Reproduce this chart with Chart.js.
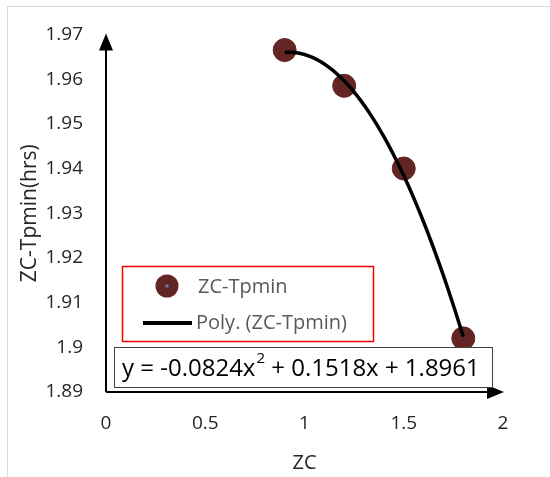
<!DOCTYPE html>
<html>
<head>
<meta charset="utf-8">
<script src="https://cdn.jsdelivr.net/npm/chart.js"></script>
<style>
  body { margin: 0; background: #fff; }
  canvas { display: block; }
</style>
</head>
<body>
<canvas id="chart" width="550" height="477"></canvas>
<script>
const zcValues = [0.9, 1.2, 1.5, 1.8];
const tpminValues = [1.9665, 1.9585, 1.940, 1.902];
const polyCoeffs = [-0.0824, 0.1518, 1.8961]; // x^2, x, const (from the chart's equation)
const xTicks = [0, 0.5, 1, 1.5, 2];
const yTicks = [1.89, 1.9, 1.91, 1.92, 1.93, 1.94, 1.95, 1.96, 1.97];

const FONT = "'Open Sans', sans-serif";
const markerColor = "#632523";

// trendline points, from the fitted polynomial over the data range
function trendPoints() {
  const pts = [];
  const x0 = zcValues[0], x1 = zcValues[zcValues.length - 1];
  for (let i = 0; i <= 45; i++) {
    const x = x0 + (x1 - x0) * i / 45;
    pts.push({ x: x, y: polyCoeffs[0] * x * x + polyCoeffs[1] * x + polyCoeffs[2] });
  }
  return pts;
}

const extras = {
  id: "extras",
  afterDraw(chart) {
    const c = chart.ctx;
    const a = chart.chartArea;
    c.save();

    // outer frame
    c.strokeStyle = "#d9d9d9";
    c.lineWidth = 1;
    c.beginPath();
    c.moveTo(7.5, 477);
    c.lineTo(7.5, 6.5);
    c.lineTo(550, 6.5);
    c.stroke();

    // axes with arrows
    c.strokeStyle = "#000";
    c.fillStyle = "#000";
    c.lineWidth = 2;
    c.beginPath();
    c.moveTo(a.left, a.bottom);
    c.lineTo(a.left, a.top + 12);
    c.moveTo(a.left, a.bottom);
    c.lineTo(a.right - 12, a.bottom);
    c.stroke();
    c.beginPath();
    c.moveTo(a.left, a.top - 1);
    c.lineTo(a.left - 7, a.top + 16);
    c.lineTo(a.left + 7, a.top + 16);
    c.closePath();
    c.fill();
    c.beginPath();
    c.moveTo(a.right + 1, a.bottom);
    c.lineTo(a.right - 16, a.bottom - 7);
    c.lineTo(a.right - 16, a.bottom + 7);
    c.closePath();
    c.fill();

    // legend
    c.fillStyle = "#fff";
    c.fillRect(122, 266, 252, 76);
    c.strokeStyle = "#ff0000";
    c.lineWidth = 1.5;
    c.strokeRect(122.5, 266.5, 251, 75);
    c.fillStyle = markerColor;
    c.beginPath();
    c.arc(167, 286, 11.5, 0, Math.PI * 2);
    c.fill();
    c.fillStyle = "#4f81bd";
    c.beginPath();
    c.arc(167, 286, 1.8, 0, Math.PI * 2);
    c.fill();
    c.strokeStyle = "#000";
    c.lineWidth = 4;
    c.beginPath();
    c.moveTo(143, 323);
    c.lineTo(192, 323);
    c.stroke();
    c.fillStyle = "#595959";
    c.font = "20px " + FONT;
    c.textAlign = "left";
    c.textBaseline = "middle";
    c.fillText("ZC-Tpmin", 198, 287);
    c.fillText("Poly. (ZC-Tpmin)", 196, 323);

    // equation box
    c.fillStyle = "#fff";
    c.fillRect(114, 347, 379, 41);
    c.strokeStyle = "#404040";
    c.lineWidth = 1;
    c.strokeRect(114.5, 347.5, 378, 40);
    c.fillStyle = "#000";
    const p1 = "y = -0.0824x";
    const p2 = " + 0.1518x + 1.8961";
    c.font = "24px " + FONT;
    let x = 122;
    c.fillText(p1, x, 369);
    x += c.measureText(p1).width;
    c.font = "15px " + FONT;
    c.fillText("2", x + 1, 359);
    x += c.measureText("2").width + 1;
    c.font = "24px " + FONT;
    c.fillText(p2, x, 369);

    c.restore();
  }
};

new Chart(document.getElementById("chart"), {
  type: "scatter",
  data: {
    datasets: [
      {
        label: "Poly. (ZC-Tpmin)",
        data: trendPoints(),
        showLine: true,
        borderColor: "#000",
        borderWidth: 3.5,
        pointRadius: 0,
        tension: 0,
        order: 0
      },
      {
        label: "ZC-Tpmin",
        data: zcValues.map((v, i) => ({ x: v, y: tpminValues[i] })),
        backgroundColor: markerColor,
        borderColor: markerColor,
        pointRadius: 11.5,
        order: 1
      }
    ]
  },
  options: {
    responsive: false,
    animation: false,
    layout: { padding: { left: 0, right: 47, top: 30, bottom: 0 } },
    plugins: {
      legend: { display: false },
      tooltip: { enabled: false }
    },
    scales: {
      x: {
        type: "linear",
        min: 0,
        max: 2,
        afterBuildTicks: s => { s.ticks = xTicks.map(v => ({ value: v })); },
        afterFit: s => { s.height = 85; },
        grid: { display: false, drawTicks: false },
        border: { display: false },
        ticks: {
          color: "#262626",
          font: { family: FONT, size: 19 },
          padding: 20,
          callback: v => String(v)
        },
        title: {
          display: true,
          text: "ZC",
          color: "#262626",
          font: { family: FONT, size: 20 },
          padding: { top: 0, bottom: 2 }
        }
      },
      y: {
        min: 1.89,
        max: 1.97,
        afterBuildTicks: s => { s.ticks = yTicks.map(v => ({ value: v })); },
        afterFit: s => { s.width = 106; },
        grid: { display: false, drawTicks: false },
        border: { display: false },
        ticks: {
          color: "#262626",
          font: { family: FONT, size: 19 },
          padding: 23,
          callback: v => String(Number(v.toFixed(2)))
        },
        title: {
          display: true,
          text: "ZC-Tpmin(hrs)",
          color: "#262626",
          font: { family: FONT, size: 21 },
          padding: { top: 17, bottom: 0 }
        }
      }
    }
  },
  plugins: [extras]
});
</script>
</body>
</html>
